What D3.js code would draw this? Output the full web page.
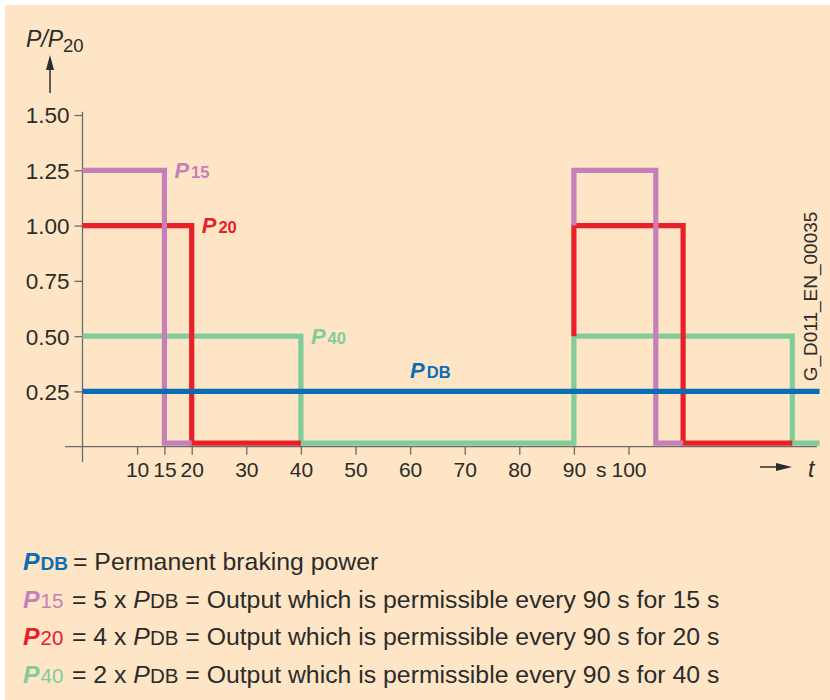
<!DOCTYPE html>
<html>
<head>
<meta charset="utf-8">
<script src="https://cdn.jsdelivr.net/npm/d3@7/dist/d3.min.js"></script>
<style>
  html, body { margin: 0; padding: 0; background: #ffffff; }
  svg { display: block; font-family: "Liberation Sans", Arial, Helvetica, sans-serif; }
</style>
</head>
<body>
<svg id="chart" width="830" height="700"></svg>
<script>
// ---- data ----
const xTicks = [10, 15, 20, 30, 40, 50, 60, 70, 80, 90, 100];
const xUnitTick = 95;           // position of the "s" unit label
const xUnitLabel = "s";
const yTicks = [0.25, 0.50, 0.75, 1.00, 1.25, 1.50];

// step series, [time in s, P/P20]
const p40Series = [[[0,0.5],[40,0.5],[40,0],[90,0],[90,0.5],[130,0.5],[130,0],[135,0]]];
const p20Series = [[[0,1.0],[20,1.0],[20,0],[40,0]], [[90,0.5],[90,1.0],[110,1.0],[110,0],[130,0]]];
const p15Series = [[[0,1.25],[15,1.25],[15,0],[20,0]], [[90,1.0],[90,1.25],[105,1.25],[105,0],[110,0]]];
const pdbSeries = [[[0,0.25],[135,0.25]]];

const seriesLabels = [
  {name: "P", sub: "15", t: 15, v: 1.25, color: "#c77fba"},
  {name: "P", sub: "20", t: 20, v: 1.00, color: "#e8202a"},
  {name: "P", sub: "40", t: 40, v: 0.50, color: "#82cc9c"},
  {name: "P", sub: "DB", t: 60, v: 0.25, color: "#0b6db5"}
];

const legendRows = [
  {sub: "DB", color: "#0b6db5", factor: null, text: "= Permanent braking power"},
  {sub: "15", color: "#c77fba", factor: "5", text: "= Output which is permissible every 90 s for 15 s"},
  {sub: "20", color: "#e8202a", factor: "4", text: "= Output which is permissible every 90 s for 20 s"},
  {sub: "40", color: "#82cc9c", factor: "2", text: "= Output which is permissible every 90 s for 40 s"}
];

// ---- layout ----
const svg = d3.select("#chart");
const textColor = "#2b2b2b";
const axisColor = "#6e6a66";

svg.append("rect").attr("x", 5).attr("y", 5).attr("width", 825).attr("height", 695).attr("fill", "#fde5c5");

const x = d3.scaleLinear().domain([0, 100]).range([82.5, 628.5]);
const y = d3.scaleLinear().domain([0, 1.5]).range([446.7, 115]);
const zeroLift = 3.5; // low level sits on top of the axis line

// axes
const gx = svg.append("g").attr("transform", `translate(0,${y(0)})`)
  .call(d3.axisBottom(x).tickValues(xTicks).tickSize(8).tickSizeOuter(0).tickFormat(d3.format("d")));
gx.select(".domain").remove();
gx.selectAll(".tick line").attr("stroke", axisColor).attr("stroke-width", 1.3);
gx.selectAll(".tick text").attr("y", 30.5).attr("dy", 0)
  .attr("font-size", 21).attr("fill", textColor).attr("font-family", null);
gx.append("text").attr("x", x(xUnitTick)).attr("y", 30.5).attr("text-anchor", "middle")
  .attr("font-size", 21).attr("fill", textColor).text(xUnitLabel);

const gy = svg.append("g").attr("transform", `translate(${x(0)},0)`)
  .call(d3.axisLeft(y).tickValues(yTicks).tickSize(8).tickSizeOuter(0).tickFormat(d3.format(".2f")));
gy.select(".domain").remove();
gy.selectAll(".tick line").attr("stroke", axisColor).attr("stroke-width", 1.3);
gy.selectAll(".tick text").attr("x", -13).attr("dy", "0.35em")
  .attr("font-size", 22.5).attr("fill", textColor).attr("font-family", null);

// axis lines
svg.append("line").attr("x1", x(-3.2)).attr("x2", x(134.5)).attr("y1", y(0)).attr("y2", y(0))
  .attr("stroke", axisColor).attr("stroke-width", 1.3);
svg.append("line").attr("x1", x(0)).attr("x2", x(0)).attr("y1", y(1.515)).attr("y2", y(-0.07))
  .attr("stroke", axisColor).attr("stroke-width", 1.3);

// lines
const line = d3.line().x(d => x(d[0])).y(d => y(d[1]) - (d[1] === 0 ? zeroLift : 0));
function drawSeries(data, color) {
  svg.append("g").selectAll("path").data(data).join("path")
    .attr("d", line).attr("fill", "none").attr("stroke", color)
    .attr("stroke-width", 5.2).attr("stroke-linejoin", "miter").attr("stroke-linecap", "butt");
}
drawSeries(p40Series, "#82cc9c");
drawSeries(p20Series, "#e8202a");
drawSeries(p15Series, "#c77fba");
drawSeries(pdbSeries, "#0b6db5");

// series labels
const lbl = svg.append("g").selectAll("text").data(seriesLabels).join("text")
  .attr("x", d => d.sub === "DB" ? x(d.t) : x(d.t) + 10)
  .attr("y", d => d.sub === "DB" ? y(d.v) - 13 : y(d.v) + 7.5)
  .attr("fill", d => d.color).attr("font-weight", "bold");
lbl.append("tspan").attr("font-style", "italic").attr("font-size", 22).text(d => d.name);
lbl.append("tspan").attr("font-size", 16.5).attr("dx", 2).text(d => d.sub);

// y axis title with arrow
const yt = svg.append("text").attr("x", 26).attr("y", 47).attr("fill", textColor);
yt.append("tspan").attr("font-style", "italic").attr("font-size", 23).text("P/P");
yt.append("tspan").attr("font-size", 18.5).attr("dy", 5).text("20");
svg.append("line").attr("x1", 50).attr("x2", 50).attr("y1", 93).attr("y2", 66)
  .attr("stroke", textColor).attr("stroke-width", 1.5);
svg.append("path").attr("d", "M50,55 L46,70 L54,70 Z").attr("fill", textColor);

// x axis title with arrow
svg.append("line").attr("x1", 760).attr("x2", 780).attr("y1", 467).attr("y2", 467)
  .attr("stroke", textColor).attr("stroke-width", 1.5);
svg.append("path").attr("d", "M792,467 L776,463 L776,471 Z").attr("fill", textColor);
svg.append("text").attr("x", 808).attr("y", 477).attr("font-style", "italic")
  .attr("font-size", 23).attr("fill", textColor).text("t");

// figure id
svg.append("text").attr("transform", "translate(817,296.5) rotate(-90)")
  .attr("text-anchor", "middle").attr("font-size", 19).attr("fill", textColor).text("G_D011_EN_00035");

// legend
const legend = svg.append("g");
legendRows.forEach((r, i) => {
  const t = legend.append("text").attr("x", 23).attr("y", 570 + i * 37.5)
    .attr("font-size", 24.8).attr("fill", textColor);
  t.append("tspan").attr("font-weight", "bold").attr("font-style", "italic").attr("fill", r.color).text("P");
  t.append("tspan").attr("font-size", r.sub === "DB" ? 19 : 20.5).attr("dx", 1).attr("fill", r.color)
    .attr("font-weight", r.sub === "DB" ? "bold" : "normal").text(r.sub);
  if (r.factor !== null) {
    t.append("tspan").attr("x", 72).text(`= ${r.factor} x `);
    t.append("tspan").attr("font-style", "italic").text("P");
    t.append("tspan").attr("font-size", 20.5).text("DB");
    t.append("tspan").text(" " + r.text);
  } else {
    t.append("tspan").attr("x", 73).text(r.text);
  }
});
</script>
</body>
</html>
